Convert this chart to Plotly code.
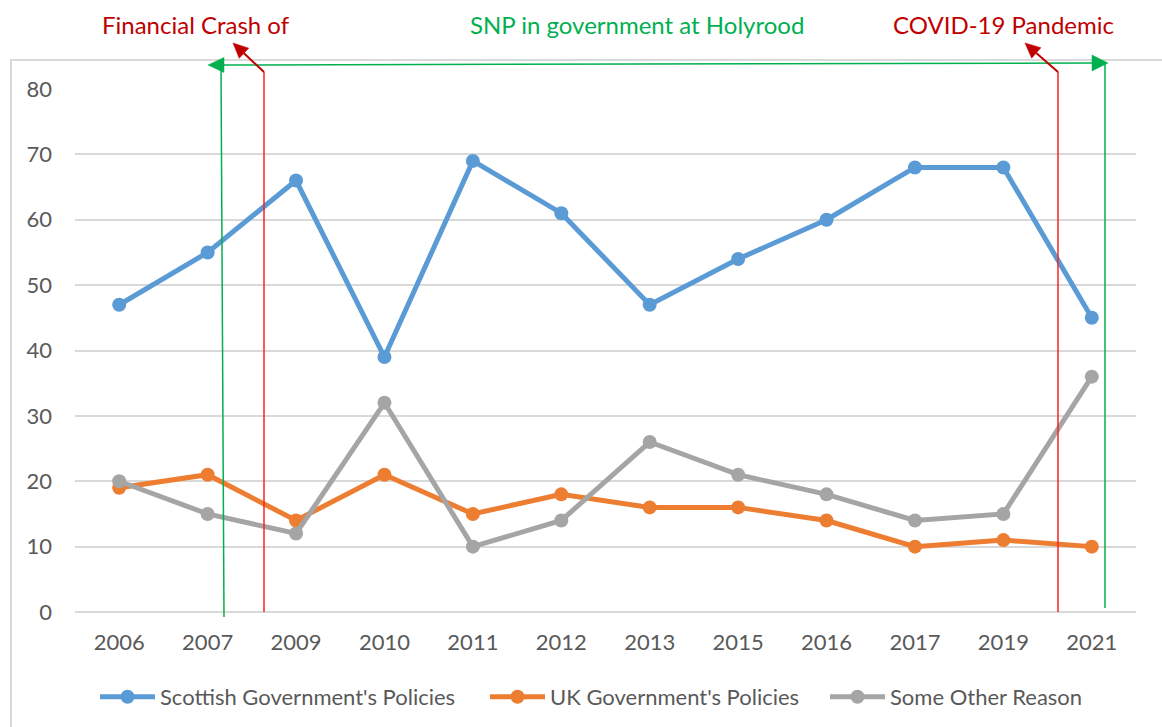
import math
import plotly.graph_objects as go

# Survey years (category axis) and percentages per response
years = ["2006", "2007", "2009", "2010", "2011", "2012",
         "2013", "2015", "2016", "2017", "2019", "2021"]
scottish_gov = [47, 55, 66, 39, 69, 61, 47, 54, 60, 68, 68, 45]
uk_gov = [19, 21, 14, 21, 15, 18, 16, 16, 14, 10, 11, 10]
other_reason = [20, 15, 12, 32, 10, 14, 26, 21, 18, 14, 15, 36]

series_names = ["Scottish Government's Policies",
                "UK Government's Policies",
                "Some Other Reason"]
series_colors = ["#5B9BD5", "#ED7D31", "#A5A5A5"]
y_ticks = [0, 10, 20, 30, 40, 50, 60, 70, 80]

W, H = 1162, 727
ML, MR, MT, MB = 75, 26, 89, 115
PW, PH = W - ML - MR, H - MT - MB

FONT = "Lato"
TICK_GREY = "#595959"
DARK_RED = "#C00000"
BRIGHT_RED = "#FF2020"
GREEN = "#00B050"


def px(x):
    """Pixel column -> paper x."""
    return (x - ML) / PW


def py(y):
    """Pixel row -> paper y."""
    return (H - MB - y) / PH


# each series gets its own legend box so the entries can be spaced freely
legend_ids = ["legend", "legend2", "legend3"]
legend_left = [95, 485, 825]

fig = go.Figure()
for name, vals, col, lid in zip(series_names, [scottish_gov, uk_gov, other_reason],
                                series_colors, legend_ids):
    fig.add_trace(go.Scatter(
        x=years, y=vals, name=name, mode="lines+markers",
        line=dict(color=col, width=5),
        marker=dict(color=col, size=14),
        legend=lid,
    ))

shapes = []


def seg(x0, y0, x1, y1, color, width):
    shapes.append(dict(type="line", xref="paper", yref="paper",
                       x0=px(x0), y0=py(y0), x1=px(x1), y1=py(y1),
                       line=dict(color=color, width=width), layer="above"))


def head(tipx, tipy, tailx, taily, color, length=15, half=7.5):
    """Filled triangular arrow head at (tipx, tipy), pointing away from the tail."""
    dx, dy = tipx - tailx, tipy - taily
    n = math.hypot(dx, dy)
    ux, uy = dx / n, dy / n
    bx, by = tipx - ux * length, tipy - uy * length
    c1 = (bx - uy * half, by + ux * half)
    c2 = (bx + uy * half, by - ux * half)
    path = "M{},{} L{},{} L{},{} Z".format(
        px(tipx), py(tipy), px(c1[0]), py(c1[1]), px(c2[0]), py(c2[1]))
    shapes.append(dict(type="path", xref="paper", yref="paper", path=path,
                       fillcolor=color, line=dict(color=color, width=0.5),
                       layer="above"))
    return bx, by


# Outer chart frame
shapes.append(dict(type="rect", xref="paper", yref="paper",
                   x0=px(11), y0=py(760), x1=px(1200), y1=py(60),
                   line=dict(color="#D9D9D9", width=2), layer="below"))

# SNP period: green double-headed arrow with drop lines
lbx, _ = head(208, 65, 260, 65, GREEN, length=16, half=7.5)
rbx, _ = head(1108, 63, 1050, 63, GREEN, length=16, half=8)
seg(lbx, 65, rbx, 63, GREEN, 1.5)
seg(221, 65, 224, 617, GREEN, 1.5)
seg(1105, 63, 1105, 608, GREEN, 1.5)

# Financial crash marker
seg(264, 612, 264, 72, BRIGHT_RED, 1.5)
bx, by = head(233, 43, 264, 72, DARK_RED, length=15, half=7)
seg(264, 72, bx, by, DARK_RED, 2)

# COVID-19 marker
seg(1058, 612, 1058, 72, BRIGHT_RED, 1.5)
bx, by = head(1025, 43, 1058, 72, DARK_RED, length=15, half=7)
seg(1058, 72, bx, by, DARK_RED, 2)

annotations = [
    dict(text="Financial Crash of", x=px(196), y=py(25), font=dict(color=DARK_RED, size=24)),
    dict(text="SNP in government at Holyrood", x=px(637), y=py(25), font=dict(color=GREEN, size=24)),
    dict(text="COVID-19 Pandemic", x=px(1003), y=py(25), font=dict(color=DARK_RED, size=24)),
]
for a in annotations:
    a.update(xref="paper", yref="paper", showarrow=False,
             xanchor="center", yanchor="middle")
    a["font"]["family"] = FONT

legend_style = dict(orientation="h", xanchor="left", y=py(697), yanchor="middle",
                    font=dict(size=22, color=TICK_GREY, family=FONT),
                    itemwidth=55, bgcolor="rgba(0,0,0,0)")

fig.update_layout(
    width=W, height=H,
    margin=dict(l=ML, r=MR, t=MT, b=MB, autoexpand=False),
    paper_bgcolor="white", plot_bgcolor="white",
    font=dict(family=FONT, color=TICK_GREY, size=22),
    shapes=shapes,
    annotations=annotations,
    showlegend=True,
    xaxis=dict(type="category", range=[-0.5, 11.5], showgrid=False,
               showline=False, zeroline=False, ticks="", automargin=False,
               tickfont=dict(size=22, color=TICK_GREY, family=FONT),
               ticklabelstandoff=15),
    yaxis=dict(range=[0, 80], tickvals=y_ticks, showgrid=True,
               gridcolor="#D9D9D9", gridwidth=1.5, zeroline=True,
               zerolinecolor="#D9D9D9", zerolinewidth=2, showline=False,
               ticks="", automargin=False,
               tickfont=dict(size=22, color=TICK_GREY, family=FONT),
               ticklabelstandoff=22),
)
for lid, left in zip(legend_ids, legend_left):
    fig.update_layout({lid: dict(legend_style, x=px(left))})

fig.write_html("out.html")
